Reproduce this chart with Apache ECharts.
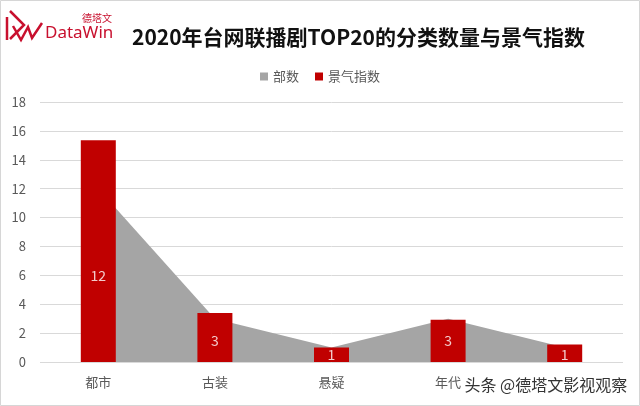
<!DOCTYPE html>
<html><head><meta charset="utf-8">
<script src="https://cdn.jsdelivr.net/npm/echarts@6/dist/echarts.min.js"></script>
<style>html,body{margin:0;padding:0;background:#fff}#c{width:640px;height:406px}</style>
</head><body><div id="c"></div>
<script>
const categories = ['都市','古装','悬疑','年代','其他'];
const counts = [12, 3, 1, 3, 1];           // 部数
const index = [15.35, 3.4, 1.0, 2.93, 1.22]; // 景气指数
const yTicks = [0,2,4,6,8,10,12,14,16,18];

const chart = echarts.init(document.getElementById('c'));
const font = '"Noto Sans CJK SC", "Noto Sans", sans-serif';
chart.setOption({
  backgroundColor: '#fff',
  animation: false,
  textStyle: {fontFamily: font},
  title: {
    text: '2020年台网联播剧TOP20的分类数量与景气指数',
    left: 127, top: 22,
    textStyle: {fontSize: 21, fontWeight: 'bold', color: '#111', fontFamily: font}
  },
  legend: {
    top: 65, left: 'center',
    itemWidth: 8, itemHeight: 8, itemGap: 16,
    textStyle: {fontSize: 13, color: '#595959', fontFamily: font},
    data: [{name:'部数', icon:'rect'}, {name:'景气指数', icon:'rect'}]
  },
  grid: {left: 40, right: 17, top: 102, bottom: 44},
  xAxis: {
    type: 'category', data: categories,
    axisLine: {show: false}, axisTick: {show: false},
    axisLabel: {fontSize: 13, color: '#595959', margin: 14,
      formatter: (v, i) => i === categories.length - 1 ? '' : v}
  },
  yAxis: {
    type: 'value', min: yTicks[0], max: yTicks[yTicks.length-1], interval: 2,
    axisLine: {show: false}, axisTick: {show: false},
    axisLabel: {fontSize: 13, color: '#595959', margin: 14},
    splitLine: {lineStyle: {color: '#D9D9D9', width: 1}}
  },
  series: [
    {
      name: '部数', type: 'line', data: counts,
      symbol: 'none', lineStyle: {width: 0, color: '#A5A5A5'},
      itemStyle: {color: '#A5A5A5'},
      areaStyle: {color: '#A5A5A5', opacity: 1}, z: 1
    },
    {
      name: '景气指数', type: 'bar', data: index,
      barWidth: 35, itemStyle: {color: '#C00000'}, z: 2
    },
    {
      name: 'lbl', type: 'scatter', data: counts.map(v => v / 2),
      symbolSize: 0, z: 5, silent: true,
      label: {show: true, position: 'inside', color: '#fff', fontSize: 14,
        formatter: p => String(counts[p.dataIndex])}
    }
  ],
  graphic: [
    {type:'rect', shape:{x:0.5,y:0.5,width:639,height:405}, style:{fill:'none', stroke:'#D6D6D6', lineWidth:1}, z:100},
    {type:'text', left: 45, top: 25, style:{text:'DataWin', fill:'#C8102E', font:'17px "Noto Sans", sans-serif'}},
    {type:'text', left: 82, top: 13, style:{text:'德塔文', fill:'#C8102E', font:'10px "Noto Sans CJK SC", sans-serif'}},
    {type:'polyline', shape:{points:[[7,17],[7,40]]}, style:{stroke:'#C8102E', lineWidth:2.5, fill:'none'}},
    {type:'polyline', shape:{points:[[10,11],[24,25],[10,39]]}, style:{stroke:'#C8102E', lineWidth:2.5, fill:'none'}},
    {type:'polyline', shape:{points:[[13,26],[21,40],[28,27],[32,38],[42,23]]}, style:{stroke:'#C8102E', lineWidth:2.5, fill:'none'}},
    {type:'text', left: 463, top: 375, z: 50,
      style:{text:'头条 @德塔文影视观察', fill:'#333', font:'16px "Noto Sans CJK SC", sans-serif',
        stroke:'#fff', lineWidth: 3}}
  ]
});
</script></body></html>
